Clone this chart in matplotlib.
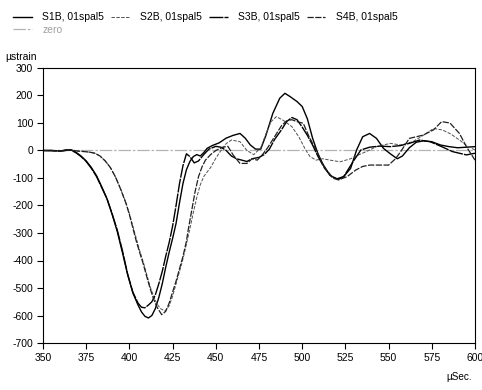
import matplotlib
matplotlib.use("Agg")
import matplotlib.pyplot as plt

plt.rcParams['font.family'] = ['Liberation Sans', 'DejaVu Sans']
plt.rcParams['axes.unicode_minus'] = False

# ---- data (µSec, µstrain) ----
s1b_x = [350, 355, 360, 363, 366, 369, 372, 375, 378, 381, 384, 387, 390, 393, 396, 399, 402, 405, 407, 409, 411,
         413, 415, 417, 419, 421, 423, 425, 427, 429, 431, 433, 435, 437, 439, 441, 443, 445, 448, 452, 456, 460,
         464, 467, 470, 473, 476, 479, 483, 487, 490, 493, 497, 500, 503, 506, 509, 512, 516, 520, 524, 528,
         531.5, 535, 539, 543, 547, 551, 555, 558, 562, 566, 570, 575, 580, 585, 590, 595, 600]
s1b_y = [0, 0, -2, 2, 3, -6, -20, -38, -62, -92, -132, -175, -232, -295, -372, -452, -518, -562, -587, -603, -609,
         -600, -575, -535, -485, -425, -370, -320, -265, -190, -120, -70, -40, -22, -15, -20, -8, 8, 18, 28, 45, 55,
         62, 45, 20, 5, 5, 55, 135, 190, 208, 196, 178, 160, 115, 45, -10, -50, -90, -103, -95, -65,
         2, 50, 62, 44, 8, -12, -30, -20, 10, 30, 35, 32, 20, 14, 10, 12, 14]

s2b_x = [350, 360, 366, 370, 374, 377, 380, 383, 386, 389, 392, 395, 398, 400, 402, 404, 406, 408, 410, 412, 414,
         416, 418, 420.6, 423, 425, 427, 429, 431, 433, 435, 437, 439, 441, 443, 445, 447, 450, 453, 456, 459,
         464, 468, 472, 476, 479, 482, 485, 489, 494, 498, 502, 504.5, 508, 512, 516, 522, 528, 533, 537, 543,
         547, 551, 557, 564, 570, 576, 581, 586, 591, 596, 600]
s2b_y = [0, -2, 2, -2, -4, -6, -10, -20, -38, -62, -97, -140, -190, -230, -275, -320, -365, -405, -450, -495, -530,
         -558, -575, -584, -565, -530, -485, -440, -395, -340, -285, -225, -170, -125, -95, -78, -62, -28, 0, 25, 38,
         32, 0, -15, 10, 60, 105, 123, 110, 87, 50, 2, -22, -35, -30, -35, -41, -30, -15, -4, 14,
         20, 26, 20, 32, 55, 80, 75, 60, 38, 14, 2]

s3b_x = [350, 355, 360, 363, 366, 369, 372, 375, 378, 381, 384, 387, 390, 393, 396, 399, 402, 405, 407, 409, 411,
         413, 415, 417, 419, 421, 423, 425, 427, 429, 431, 433, 435, 437.5, 440, 443, 446, 450, 453, 456, 459,
         462, 465, 468, 471, 475, 478, 481, 484, 488, 491, 494, 497, 500, 503, 506, 509, 513, 517, 521, 524,
         527, 530, 534, 539, 545, 551, 557, 562, 568, 574, 580, 587, 595, 600]
s3b_y = [0, 0, -2, 0, 2, -8, -22, -40, -65, -95, -135, -175, -230, -290, -365, -450, -515, -555, -570, -572, -562,
         -550, -525, -485, -440, -385, -335, -275, -200, -120, -55, -12, -22, -45, -38, -15, 5, 15, 12, 0, -20,
         -30, -35, -40, -30, -25, -15, 5, 40, 75, 105, 120, 112, 85, 55, 20, -20, -65, -95, -105, -95,
         -65, -35, 2, 12, 16, 14, 18, 26, 38, 32, 16, -4, -16, -10]

s4b_x = [350, 360, 366, 370, 374, 377, 380, 383, 386, 389, 392, 395, 398, 400, 402, 404, 406, 408, 410, 412, 414,
         416, 418.7, 421, 423, 425, 427, 429, 431, 433, 434, 436, 438, 440, 442, 444, 447, 450, 454, 457, 460,
         464, 468, 471, 474, 477, 480, 484, 488, 491, 494, 497, 500.6, 504, 508, 511, 514, 518, 521, 526, 531,
         535, 539, 545, 550, 554, 557, 562, 566, 570, 576, 580.7, 585.5, 591, 595, 600]
s4b_y = [0, -2, 2, -2, -4, -6, -10, -20, -38, -62, -97, -142, -192, -233, -282, -330, -372, -412, -458, -502, -540,
         -570, -597, -585, -555, -515, -475, -430, -385, -330, -290, -220, -150, -95, -60, -35, -15, 0, 12, 15, -16,
         -47, -47, -30, -35, -15, 10, 50, 90, 108, 112, 105, 99, 50, 2, -40, -71, -101, -107, -95, -71,
         -58, -53, -53, -53, -30, -4, 44, 50, 56, 75, 105, 100, 62, 14, -35]

zero_x = [350, 600]
zero_y = [0, 0]

x_ticks = [350, 375, 400, 425, 450, 475, 500, 525, 550, 575, 600]
y_ticks = [300, 200, 100, 0, -100, -200, -300, -400, -500, -600, -700]

W, H = 482, 390
fig = plt.figure(figsize=(W / 100, H / 100), dpi=100)
ax = fig.add_axes([43 / W, (H - 343) / H, (475 - 43) / W, (343 - 68) / H])

l_zero, = ax.plot(zero_x, zero_y, color='#b4b4b4', lw=0.9, dashes=(10, 1.5, 2, 1.5), label='zero')
l1, = ax.plot(s1b_x, s1b_y, color='black', lw=1.0, label='S1B, 01spal5')
l2, = ax.plot(s2b_x, s2b_y, color='#505050', lw=0.7, dashes=(3.5, 1.5), label='S2B, 01spal5')
l3, = ax.plot(s3b_x, s3b_y, color='black', lw=1.0, dashes=(10, 0.8), label='S3B, 01spal5')
l4, = ax.plot(s4b_x, s4b_y, color='#202020', lw=0.9, dashes=(5, 1.2), label='S4B, 01spal5')

ax.set_xlim(350, 600)
ax.set_ylim(-700, 300)
ax.set_xticks(x_ticks)
ax.set_yticks(y_ticks)
ax.tick_params(direction='out', length=4, width=0.8, labelsize=7.5, colors='black', pad=3)
for s in ax.spines.values():
    s.set_linewidth(0.8)
    s.set_color('black')

fig.text(5 / W, 1 - 57 / H, 'µstrain', fontsize=7.5, va='center', ha='left')
fig.text(472 / W, 1 - 377 / H, 'µSec.', fontsize=7.2, va='center', ha='right')

leg = fig.legend([l1, l_zero, l2, l3, l4],
                 ['S1B, 01spal5', 'zero', 'S2B, 01spal5', 'S3B, 01spal5', 'S4B, 01spal5'],
                 ncol=4, loc='upper left', bbox_to_anchor=(7 / W, 1 - 6 / H),
                 frameon=False, fontsize=7.5, handlelength=1.8, handletextpad=1.0,
                 columnspacing=0.65, labelspacing=0.25, borderpad=0.1)
for t in leg.get_texts():
    if t.get_text() == 'zero':
        t.set_color('#a0a0a0')

fig.savefig('out.png', dpi=100)
